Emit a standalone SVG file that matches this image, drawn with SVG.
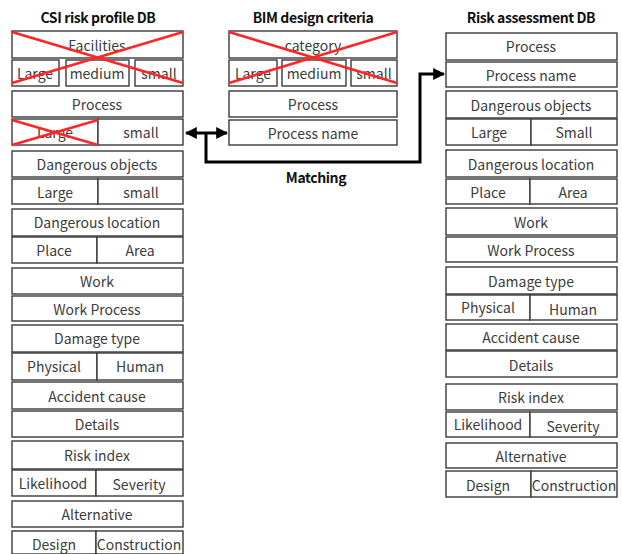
<svg xmlns="http://www.w3.org/2000/svg" width="622" height="554" viewBox="0 0 622 554">
  <style>
    .box { fill: #ffffff; stroke: #3a3a3a; stroke-width: 1.4; }
    .lbl { font-family: "Noto Sans CJK KR", "Noto Sans", sans-serif; font-size: 14px; fill: #3c3c3c; text-anchor: middle; dominant-baseline: central; }
    .ttl { font-family: "Noto Sans CJK KR", "Noto Sans", sans-serif; font-size: 14px; font-weight: bold; fill: #111111; text-anchor: middle; letter-spacing: -0.4px; }
    .cross { stroke: #ff2626; stroke-width: 2.6; fill: none; }
    .conn { stroke: #000000; stroke-width: 3; fill: none; }
  </style>
  <defs>
    <marker id="arrow" viewBox="0 0 10 10" refX="9" refY="5" markerWidth="4" markerHeight="4" orient="auto-start-reverse" markerUnits="strokeWidth">
      <path d="M0,0 L10,5 L0,10 Z" fill="#000000"/>
    </marker>
  </defs>
  <rect width="622" height="554" fill="#ffffff"/>

  <!-- Titles -->
  <text class="ttl" x="98" y="23">CSI risk profile DB</text>
  <text class="ttl" x="313" y="23">BIM design criteria</text>
  <text class="ttl" x="531" y="23">Risk assessment DB</text>

  <!-- CSI risk profile DB column -->
  <g id="csi-facilities">
    <rect class="box" x="12" y="31" width="171" height="27"/>
    <text class="lbl" x="97" y="45">Facilities</text>
  </g>
  <g id="csi-facilities-size">
    <rect class="box" x="12" y="60" width="47" height="26"/>
    <text class="lbl" x="35" y="73">Large</text>
    <rect class="box" x="66" y="60" width="63" height="26"/>
    <text class="lbl" x="97" y="73">medium</text>
    <rect class="box" x="135" y="60" width="48" height="26"/>
    <text class="lbl" x="159" y="73">small</text>
  </g>
  <g id="csi-process">
    <rect class="box" x="12" y="91" width="171" height="26"/>
    <text class="lbl" x="97" y="104">Process</text>
  </g>
  <g id="csi-process-size">
    <rect class="box" x="12" y="119" width="86" height="26"/>
    <text class="lbl" x="55" y="132">Large</text>
    <rect class="box" x="98" y="119" width="85" height="26"/>
    <text class="lbl" x="141" y="132">small</text>
  </g>
  <g id="csi-objects">
    <rect class="box" x="12" y="151" width="171" height="26"/>
    <text class="lbl" x="97" y="164">Dangerous objects</text>
  </g>
  <g id="csi-objects-size">
    <rect class="box" x="12" y="179" width="86" height="25"/>
    <text class="lbl" x="55" y="191.5">Large</text>
    <rect class="box" x="98" y="179" width="85" height="25"/>
    <text class="lbl" x="141" y="191.5">small</text>
  </g>
  <g id="csi-location">
    <rect class="box" x="12" y="209" width="171" height="27"/>
    <text class="lbl" x="97" y="222">Dangerous location</text>
  </g>
  <g id="csi-location-kind">
    <rect class="box" x="12" y="237" width="85" height="26"/>
    <text class="lbl" x="54" y="250">Place</text>
    <rect class="box" x="97" y="237" width="86" height="26"/>
    <text class="lbl" x="140" y="250">Area</text>
  </g>
  <g id="csi-work">
    <rect class="box" x="12" y="268" width="171" height="26"/>
    <text class="lbl" x="97" y="281">Work</text>
  </g>
  <g id="csi-work-process">
    <rect class="box" x="12" y="296" width="171" height="25"/>
    <text class="lbl" x="97" y="308.5">Work Process</text>
  </g>
  <g id="csi-damage">
    <rect class="box" x="12" y="325" width="171" height="27"/>
    <text class="lbl" x="97" y="338">Damage type</text>
  </g>
  <g id="csi-damage-kind">
    <rect class="box" x="12" y="353" width="85" height="27"/>
    <text class="lbl" x="54" y="366">Physical</text>
    <rect class="box" x="97" y="353" width="86" height="27"/>
    <text class="lbl" x="140" y="366">Human</text>
  </g>
  <g id="csi-cause">
    <rect class="box" x="12" y="382" width="171" height="27"/>
    <text class="lbl" x="97" y="396">Accident  cause</text>
  </g>
  <g id="csi-details">
    <rect class="box" x="12" y="411" width="171" height="26"/>
    <text class="lbl" x="97" y="424">Details</text>
  </g>
  <g id="csi-risk">
    <rect class="box" x="12" y="441" width="171" height="28"/>
    <text class="lbl" x="97" y="455">Risk index</text>
  </g>
  <g id="csi-risk-parts">
    <rect class="box" x="12" y="470" width="84" height="26"/>
    <text class="lbl" x="53" y="483">Likelihood</text>
    <rect class="box" x="96" y="470" width="87" height="26"/>
    <text class="lbl" x="139" y="484">Severity</text>
  </g>
  <g id="csi-alternative">
    <rect class="box" x="12" y="501" width="171" height="26"/>
    <text class="lbl" x="97" y="514">Alternative</text>
  </g>
  <g id="csi-alternative-kind">
    <rect class="box" x="12" y="531" width="84" height="23"/>
    <text class="lbl" x="54" y="544">Design</text>
    <rect class="box" x="96" y="531" width="87" height="23"/>
    <text class="lbl" x="139" y="544">Construction</text>
  </g>

  <!-- BIM design criteria column -->
  <g id="bim-category">
    <rect class="box" x="229" y="31" width="168" height="27"/>
    <text class="lbl" x="313" y="45">category</text>
  </g>
  <g id="bim-category-size">
    <rect class="box" x="229" y="60" width="48" height="26"/>
    <text class="lbl" x="253" y="73">Large</text>
    <rect class="box" x="282" y="60" width="64" height="26"/>
    <text class="lbl" x="314" y="73">medium</text>
    <rect class="box" x="351" y="60" width="46" height="26"/>
    <text class="lbl" x="374" y="73">small</text>
  </g>
  <g id="bim-process">
    <rect class="box" x="229" y="91" width="168" height="26"/>
    <text class="lbl" x="313" y="104">Process</text>
  </g>
  <g id="bim-process-name">
    <rect class="box" x="229" y="120" width="168" height="25"/>
    <text class="lbl" x="313" y="133">Process name</text>
  </g>

  <!-- Risk assessment DB column -->
  <g id="ra-process">
    <rect class="box" x="446" y="33" width="171" height="27"/>
    <text class="lbl" x="531" y="46">Process</text>
  </g>
  <g id="ra-process-name">
    <rect class="box" x="446" y="62" width="171" height="25"/>
    <text class="lbl" x="531" y="74.5">Process name</text>
  </g>
  <g id="ra-objects">
    <rect class="box" x="446" y="91" width="171" height="27"/>
    <text class="lbl" x="531" y="104.5">Dangerous objects</text>
  </g>
  <g id="ra-objects-size">
    <rect class="box" x="446" y="119" width="85" height="26"/>
    <text class="lbl" x="489" y="132">Large</text>
    <rect class="box" x="531" y="119" width="86" height="26"/>
    <text class="lbl" x="574" y="132">Small</text>
  </g>
  <g id="ra-location">
    <rect class="box" x="446" y="150" width="171" height="27"/>
    <text class="lbl" x="531" y="163.5">Dangerous location</text>
  </g>
  <g id="ra-location-kind">
    <rect class="box" x="446" y="179" width="84" height="25"/>
    <text class="lbl" x="488" y="191.5">Place</text>
    <rect class="box" x="530" y="179" width="87" height="25"/>
    <text class="lbl" x="573" y="191.5">Area</text>
  </g>
  <g id="ra-work">
    <rect class="box" x="446" y="208" width="171" height="27"/>
    <text class="lbl" x="531" y="221.5">Work</text>
  </g>
  <g id="ra-work-process">
    <rect class="box" x="446" y="237" width="171" height="25"/>
    <text class="lbl" x="531" y="249.5">Work Process</text>
  </g>
  <g id="ra-damage">
    <rect class="box" x="446" y="267" width="171" height="27"/>
    <text class="lbl" x="531" y="280.5">Damage type</text>
  </g>
  <g id="ra-damage-kind">
    <rect class="box" x="446" y="295" width="84" height="25"/>
    <text class="lbl" x="488" y="307">Physical</text>
    <rect class="box" x="530" y="295" width="87" height="25"/>
    <text class="lbl" x="573" y="309">Human</text>
  </g>
  <g id="ra-cause">
    <rect class="box" x="446" y="324" width="171" height="26"/>
    <text class="lbl" x="531" y="337">Accident  cause</text>
  </g>
  <g id="ra-details">
    <rect class="box" x="446" y="351" width="171" height="26"/>
    <text class="lbl" x="531" y="365">Details</text>
  </g>
  <g id="ra-risk">
    <rect class="box" x="446" y="384" width="171" height="26"/>
    <text class="lbl" x="531" y="397">Risk index</text>
  </g>
  <g id="ra-risk-parts">
    <rect class="box" x="446" y="412" width="84" height="25"/>
    <text class="lbl" x="488" y="424">Likelihood</text>
    <rect class="box" x="530" y="412" width="87" height="25"/>
    <text class="lbl" x="573" y="426">Severity</text>
  </g>
  <g id="ra-alternative">
    <rect class="box" x="446" y="443" width="171" height="25"/>
    <text class="lbl" x="531" y="456">Alternative</text>
  </g>
  <g id="ra-alternative-kind">
    <rect class="box" x="446" y="471" width="85" height="26"/>
    <text class="lbl" x="488" y="485">Design</text>
    <rect class="box" x="531" y="471" width="86" height="26"/>
    <text class="lbl" x="574" y="485">Construction</text>
  </g>

  <!-- Excluded fields -->
  <g id="exclusions">
    <path class="cross" d="M12,32 L183,83 M12,83 L183,32"/>
    <path class="cross" d="M12,120 L98,145 M12,145 L98,120"/>
    <path class="cross" d="M229,32 L397,83 M229,83 L397,32"/>
  </g>

  <!-- Connectors -->
  <g id="connectors">
    <path class="conn" d="M186,133 L227,133" marker-start="url(#arrow)" marker-end="url(#arrow)"/>
    <path class="conn" d="M206,133 L206,162 L420,162 L420,74 L444,74" marker-end="url(#arrow)"/>
    <text class="ttl" x="316" y="183">Matching</text>
  </g>
</svg>
